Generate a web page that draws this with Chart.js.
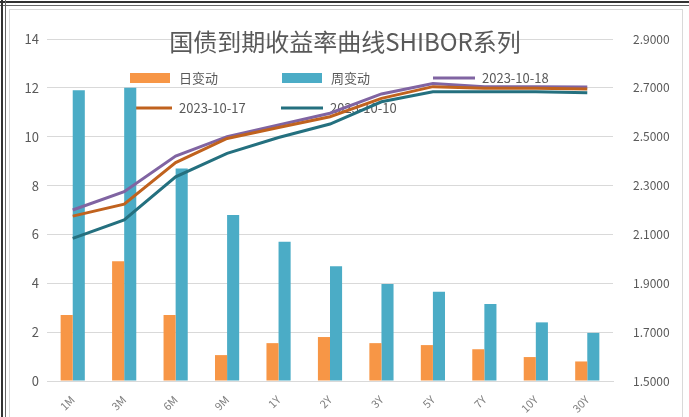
<!DOCTYPE html>
<html>
<head>
<meta charset="utf-8">
<script src="https://cdn.jsdelivr.net/npm/chart.js@4/dist/chart.umd.min.js"></script>
<style>
  html, body { margin: 0; padding: 0; background: #fff; }
  #wrap { position: relative; width: 689px; height: 417px; overflow: hidden; }
  #c { position: absolute; left: 0; top: 0; }
  .ln { position: absolute; background: #333; }
  .frame { position: absolute; left: 9px; top: 9px; width: 672px; height: 420px;
           border-left: 1px solid #d9d9d9; border-top: 1px solid #d9d9d9; border-right: 1px solid #d9d9d9; }
</style>
</head>
<body>
<div id="wrap">
  <canvas id="c" width="689" height="417"></canvas>
  <div class="frame"></div>
  <div class="ln" style="left:0;top:1px;width:689px;height:2px;"></div>
  <div class="ln" style="left:0;top:5px;width:689px;height:1px;background:#666"></div>
  <div class="ln" style="left:1px;top:0;width:2px;height:417px;"></div>
  <div class="ln" style="left:5px;top:0;width:1px;height:417px;background:#666"></div>
</div>
<script>
// 期限
const labels = ['1M', '3M', '6M', '9M', '1Y', '2Y', '3Y', '5Y', '7Y', '10Y', '30Y'];
// 日变动 / 周变动 (BP, 左轴)
const dayChange = [2.7, 4.9, 2.7, 1.06, 1.55, 1.8, 1.55, 1.47, 1.3, 0.98, 0.8];
const weekChange = [11.9, 12.0, 8.7, 6.8, 5.7, 4.7, 3.97, 3.65, 3.15, 2.4, 1.97];
// 收益率 (右轴)
const y1018 = [2.200, 2.275, 2.421, 2.500, 2.548, 2.596, 2.675, 2.718, 2.705, 2.705, 2.703];
const y1017 = [2.175, 2.224, 2.394, 2.493, 2.538, 2.582, 2.657, 2.705, 2.698, 2.698, 2.695];
const y1010 = [2.084, 2.159, 2.336, 2.432, 2.497, 2.552, 2.643, 2.684, 2.684, 2.684, 2.680];
const leftTicks = [0, 2, 4, 6, 8, 10, 12, 14];
const rightTicks = [1.5, 1.7, 1.9, 2.1, 2.3, 2.5, 2.7, 2.9];

const txtColor = '#595959';
const font = '"Noto Sans CJK SC", "Noto Sans", sans-serif';

// 标题和图例画在绘图区里面 (像 Excel 一样叠在上面)
const overlay = {
  id: 'overlay',
  beforeDatasetsDraw(chart) {
    const ctx = chart.ctx;
    ctx.save();
    ctx.fillStyle = txtColor;
    ctx.textBaseline = 'middle';
    ctx.textAlign = 'center';
    ctx.font = '24px ' + font;
    ctx.fillText('国债到期收益率曲线SHIBOR系列', 345, 42);

    const pos = [[130, 78], [282, 78], [433, 78], [130, 108], [281, 108]];
    ctx.font = '13px ' + font;
    ctx.textAlign = 'left';
    chart.data.datasets.forEach((ds, i) => {
      const [x, y] = pos[i];
      if (ds.type === 'bar') {
        ctx.fillStyle = ds.backgroundColor;
        ctx.fillRect(x, y - 5, 40, 10);
      } else {
        ctx.strokeStyle = ds.borderColor;
        ctx.lineWidth = 3;
        ctx.beginPath();
        ctx.moveTo(x, y);
        ctx.lineTo(x + 42, y);
        ctx.stroke();
      }
      ctx.fillStyle = txtColor;
      ctx.fillText(ds.label, x + 49, y);
    });
    ctx.restore();
  }
};

new Chart(document.getElementById('c'), {
  data: {
    labels: labels,
    datasets: [
      { type: 'bar', label: '日变动', data: dayChange, backgroundColor: '#F79646', yAxisID: 'y', order: 2 },
      { type: 'bar', label: '周变动', data: weekChange, backgroundColor: '#4BACC6', yAxisID: 'y', order: 2 },
      { type: 'line', label: '2023-10-18', data: y1018, borderColor: '#8064A2', borderWidth: 3, pointRadius: 0, tension: 0, yAxisID: 'y1', order: 1 },
      { type: 'line', label: '2023-10-17', data: y1017, borderColor: '#C0621E', borderWidth: 3, pointRadius: 0, tension: 0, yAxisID: 'y1', order: 0 },
      { type: 'line', label: '2023-10-10', data: y1010, borderColor: '#24707F', borderWidth: 3, pointRadius: 0, tension: 0, yAxisID: 'y1', order: 0 }
    ]
  },
  options: {
    responsive: false,
    animation: false,
    layout: { padding: { left: 8, right: 10, top: 39, bottom: 0 } },
    datasets: { bar: { categoryPercentage: 0.47, barPercentage: 1 } },
    plugins: { legend: { display: false }, title: { display: false }, tooltip: { enabled: false } },
    scales: {
      x: {
        grid: { display: false },
        border: { display: true, color: '#d9d9d9' },
        ticks: { color: '#7f7f7f', font: { size: 11, family: font }, maxRotation: 45, minRotation: 45, padding: 4 },
        afterFit(s) { s.height = 36; }
      },
      y: {
        position: 'left',
        min: 0, max: 14,
        afterBuildTicks(s) { s.ticks = leftTicks.map(v => ({ value: v })); },
        grid: { color: '#d9d9d9', drawTicks: false },
        border: { display: false },
        ticks: { color: txtColor, font: { size: 13, family: font }, padding: 8 },
        afterFit(s) { s.width = 39; }
      },
      y1: {
        position: 'right',
        min: 1.5, max: 2.9,
        afterBuildTicks(s) { s.ticks = rightTicks.map(v => ({ value: v })); },
        grid: { display: false },
        border: { display: false },
        ticks: { color: txtColor, font: { size: 12, family: font }, padding: 12, callback: v => v.toFixed(4) },
        afterFit(s) { s.width = 66; }
      }
    }
  },
  plugins: [overlay]
});
</script>
</body>
</html>
